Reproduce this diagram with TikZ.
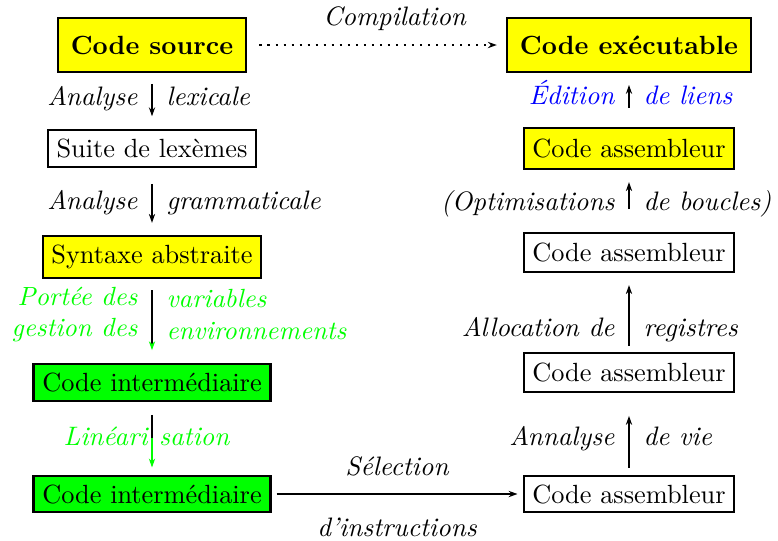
\documentclass[tikz,border=0pt]{standalone}
\usepackage{fontspec}
\usepackage{xcolor}
\usepackage{tikz}
\usetikzlibrary{arrows.meta}
\definecolor{myyellow}{RGB}{255, 255, 0}
\definecolor{mygreen}{RGB}{0, 255, 0}
\definecolor{myblue}{RGB}{0, 0, 255}

\begin{document}
\begin{tikzpicture}[x=0.38pt, y=-0.38pt,
    box/.style={draw, line width=0.8pt, minimum height=14.8pt},
    yellowbox/.style={box, fill=myyellow, minimum height=15.6pt},
    greenbox/.style={box, fill=mygreen, minimum height=14pt},
    bigbox/.style={yellowbox, font=\bfseries, inner xsep=5pt, minimum height=20.4pt},
    arr/.style={-{Stealth[length=3.4pt, width=2.4pt]}, line width=0.4pt},
    lbl/.style={font=\fontsize{10.15pt}{12.2pt}\selectfont\itshape, text height=1.6ex, text depth=0.25ex},
    twolbl/.style={font=\fontsize{10pt}{12pt}\selectfont\itshape}]
    \useasboundingbox (0,0) rectangle (778,540);

    % Left column
    \node[bigbox] (src) at (152,45) {Code source};
    \node[box, minimum height=12.5pt] (lex) at (152,148.5) {Suite de lexèmes};
    \node[yellowbox, minimum height=16pt] (syn) at (152,257) {Syntaxe abstraite};
    \node[greenbox] (int1) at (152,382.5) {Code intermédiaire};
    \node[greenbox] (int2) at (152,494) {Code intermédiaire};

    % Right column
    \node[bigbox] (exe) at (629,45) {Code exécutable};
    \node[yellowbox] (asm1) at (629,148.5) {Code assembleur};
    \node[box] (asm2) at (629,252.5) {Code assembleur};
    \node[box] (asm3) at (629,372.5) {Code assembleur};
    \node[box, minimum height=13.6pt] (asm4) at (629,494) {Code assembleur};

    % Compilation
    \draw[arr, line width=0.85pt, dash pattern=on 0.85pt off 2.2pt,
      shorten <=4.6pt, shorten >=3.4pt] (src) --
      node[lbl, pos=0.57, above=2.7pt] {Compilation} (exe);

    % Down the left column
    \draw[arr, shorten <=4.2pt, shorten >=4.9pt] (src) --
      node[lbl, pos=0.44, left=2pt] {Analyse}
      node[lbl, pos=0.44, right=2pt] {lexicale} (lex);
    \draw[arr, shorten <=6.1pt, shorten >=4.6pt] (lex) --
      node[lbl, left=2pt] {Analyse}
      node[lbl, right=2pt] {grammaticale} (syn);
    \draw[-{Stealth[length=3.4pt, width=2.4pt, color=mygreen]}, line width=0.4pt,
      shorten <=4.2pt, shorten >=4.9pt] (syn) --
      node[twolbl, text=mygreen, pos=0.42, left=2pt, align=right] {Portée des\\gestion des}
      node[twolbl, text=mygreen, pos=0.42, right=2pt, align=left] {variables\\environnements} (int1);

    % Linearisation, green below the label
    \path (int1) -- coordinate[pos=0.49] (lin) (int2);
    \draw[line width=0.4pt, shorten <=4.9pt] (int1) -- (lin);
    \draw[arr, mygreen, shorten >=2.7pt] (lin) -- (int2);
    \node[lbl, text=mygreen, anchor=east, inner xsep=1.5pt] at (lin) {Linéari};
    \node[lbl, text=mygreen, anchor=west, inner xsep=2.5pt] at (lin) {sation};

    % Selection
    \draw[arr, line width=0.7pt, shorten <=1.9pt, shorten >=1.9pt] (int2) --
      node[lbl, above=2.4pt] {Sélection}
      node[lbl, below=5.4pt] {d'instructions} (asm4);

    % Up the right column
    \draw[arr, shorten <=2.7pt, shorten >=8.7pt] (asm4) --
      node[lbl, pos=0.45, left=2pt] {Annalyse}
      node[lbl, pos=0.45, right=2pt] {de vie} (asm3);
    \draw[arr, shorten <=2.3pt, shorten >=4.6pt] (asm3) --
      node[lbl, pos=0.29, left=2pt] {Allocation de}
      node[lbl, pos=0.29, right=2pt] {registres} (asm2);
    \draw[arr, shorten <=8.7pt, shorten >=4.6pt] (asm2) --
      node[lbl, pos=0.47, left=2pt] {(Optimisations}
      node[lbl, pos=0.47, right=2pt] {de boucles)} (asm1);
    \draw[arr, shorten <=7.2pt, shorten >=4.6pt] (asm1) --
      node[lbl, text=myblue, pos=0.56, left=2pt] {Édition}
      node[lbl, text=myblue, pos=0.56, right=2pt] {de liens} (exe);
\end{tikzpicture}
\end{document}
